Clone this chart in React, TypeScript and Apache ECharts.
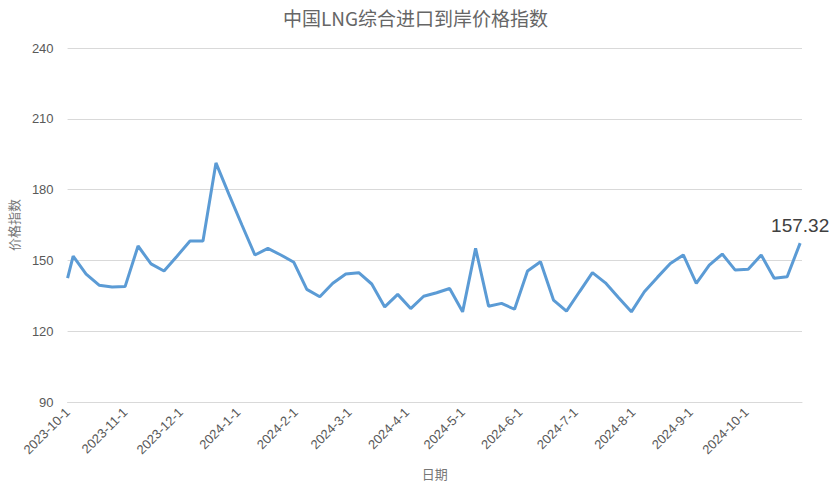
import React, { useEffect, useRef } from "react";
import * as echarts from "echarts";

const dates: string[] = [
  "2023-10-01", "2023-10-04", "2023-10-11", "2023-10-18", "2023-10-25",
  "2023-11-01", "2023-11-08", "2023-11-15", "2023-11-22", "2023-11-29",
  "2023-12-06", "2023-12-13", "2023-12-20", "2023-12-27",
  "2024-01-03", "2024-01-10", "2024-01-17", "2024-01-24", "2024-01-31",
  "2024-02-07", "2024-02-14", "2024-02-21", "2024-02-28",
  "2024-03-06", "2024-03-13", "2024-03-20", "2024-03-27",
  "2024-04-03", "2024-04-10", "2024-04-17", "2024-04-24",
  "2024-05-01", "2024-05-08", "2024-05-15", "2024-05-22", "2024-05-29",
  "2024-06-05", "2024-06-12", "2024-06-19", "2024-06-26",
  "2024-07-03", "2024-07-10", "2024-07-17", "2024-07-24", "2024-07-31",
  "2024-08-07", "2024-08-14", "2024-08-21", "2024-08-28",
  "2024-09-04", "2024-09-11", "2024-09-18", "2024-09-25",
  "2024-10-02", "2024-10-09", "2024-10-16", "2024-10-23", "2024-10-30",
];

const values: number[] = [
  142.5, 151.8, 144.2, 139.5, 138.7,
  138.9, 156.1, 148.5, 145.5, 151.8,
  158.2, 158.2, 191.3, 178.0,
  165.0, 152.3, 155.1, 152.3, 149.2,
  137.7, 134.6, 140.3, 144.2,
  144.8, 140.0, 130.3, 135.6,
  129.6, 134.8, 136.3, 138.1,
  128.2, 155.1, 130.6, 131.8, 129.3,
  145.5, 149.4, 133.2, 128.5,
  136.7, 144.8, 140.5, 134.3, 128.2,
  136.7, 142.8, 148.7, 152.3,
  140.3, 148.0, 152.7, 145.9,
  146.2, 152.3, 142.4, 143.1, 157.32,
];

const yTicks = { min: 90, max: 240, interval: 30 };
const axisMin = "2023-10-01";
const axisMax = "2024-10-31";

const FONT = "Arial, 'Liberation Sans', 'Noto Sans CJK SC', sans-serif";

export default function App() {
  const ref = useRef<HTMLDivElement>(null);

  useEffect(() => {
    if (!ref.current) return;
    const chart = echarts.init(ref.current, undefined, { renderer: "svg" });
    const last = dates.length - 1;
    const data = dates.map((d, i) => {
      const item: any = { value: [d, values[i]] };
      if (i === last) {
        item.label = {
          show: true,
          position: "top",
          distance: 8,
          formatter: values[i].toFixed(2),
          fontSize: 19,
          color: "#404040",
          fontFamily: FONT,
        };
      }
      return item;
    });
    chart.setOption({
      animation: false,
      title: {
        text: "中国LNG综合进口到岸价格指数",
        left: "center",
        top: 3,
        textStyle: {
          fontSize: 19,
          fontWeight: "normal",
          color: "#666666",
          fontFamily: "'Noto Sans CJK SC', sans-serif",
        },
      },
      grid: { left: 62, right: 29, top: 48, bottom: 88, containLabel: false },
      xAxis: {
        type: "time",
        min: axisMin,
        max: axisMax,
        minInterval: 28 * 24 * 3600 * 1000,
        maxInterval: 31 * 24 * 3600 * 1000,
        name: "日期",
        nameLocation: "middle",
        nameGap: 66,
        nameTextStyle: { fontSize: 13, color: "#777777", fontFamily: FONT },
        axisLine: { show: true, lineStyle: { color: "#d9d9d9" } },
        axisTick: { show: false },
        splitLine: { show: false },
        axisLabel: {
          rotate: 45,
          fontSize: 13,
          color: "#595959",
          fontFamily: FONT,
          showMaxLabel: false,
          formatter: (v: number) => {
            const d = new Date(v);
            return `${d.getFullYear()}-${d.getMonth() + 1}-${d.getDate()}`;
          },
        },
      },
      yAxis: {
        type: "value",
        min: yTicks.min,
        max: yTicks.max,
        interval: yTicks.interval,
        name: "价格指数",
        nameLocation: "middle",
        nameGap: 46,
        nameTextStyle: { fontSize: 13, color: "#777777", fontFamily: FONT },
        axisLine: { show: false },
        axisTick: { show: false },
        splitLine: { lineStyle: { color: "#d9d9d9", width: 1 } },
        axisLabel: { fontSize: 13, color: "#595959", margin: 14, fontFamily: FONT },
      },
      series: [
        {
          type: "line",
          data,
          showSymbol: true,
          symbol: "circle",
          symbolSize: 0,
          lineStyle: { color: "#5b9bd5", width: 3 },
          itemStyle: { color: "#5b9bd5" },
          label: { show: false },
          clip: false,
        },
      ],
    });
    return () => chart.dispose();
  }, []);

  return (
    <div
      ref={ref}
      style={{ position: "absolute", left: 0, top: 0, width: 831, height: 490 }}
    />
  );
}
